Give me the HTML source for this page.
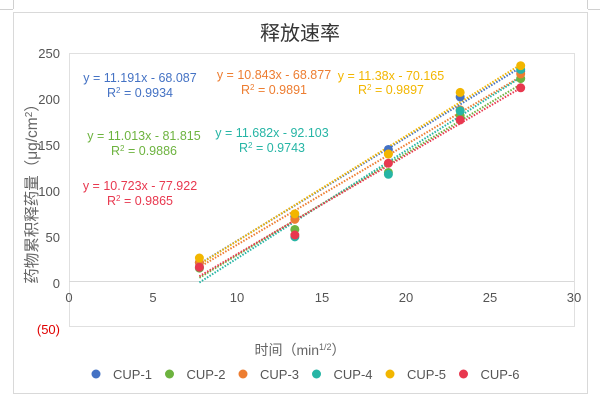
<!DOCTYPE html>
<html><head><meta charset="utf-8"><style>
body{margin:0;background:#fff;}
svg{display:block;font-family:"Liberation Sans","Noto Sans CJK SC",sans-serif;}
</style></head><body>
<svg id="s" width="600" height="403" viewBox="0 0 600 403">
<rect x="0" y="0" width="600" height="403" fill="#fff"/>
<line x1="13.5" y1="0" x2="13.5" y2="9" stroke="#d0d0d0"/>
<line x1="587.5" y1="0" x2="587.5" y2="9" stroke="#d0d0d0"/>
<line x1="0" y1="9.5" x2="13" y2="9.5" stroke="#d0d0d0"/>
<line x1="588" y1="9.5" x2="600" y2="9.5" stroke="#d0d0d0"/>
<rect x="13.5" y="12.5" width="574" height="381" fill="#fff" stroke="#d9d9d9"/>
<text x="300" y="40" font-size="20" text-anchor="middle" fill="#333">释放速率</text>
<rect x="69.5" y="53.5" width="505" height="273" fill="none" stroke="#e0e0e0"/>
<line x1="69" y1="281.5" x2="574" y2="281.5" stroke="#d9d9d9"/>
<g font-size="13" fill="#555" text-anchor="end">
<text x="60" y="58">250</text><text x="60" y="104">200</text><text x="60" y="150">150</text>
<text x="60" y="196">100</text><text x="60" y="242">50</text><text x="60" y="288">0</text>
<text x="60" y="334" fill="#e00000">(50)</text>
</g>
<g font-size="13" fill="#555" text-anchor="middle">
<text x="69" y="302">0</text><text x="153" y="302">5</text><text x="237" y="302">10</text>
<text x="322" y="302">15</text><text x="406" y="302">20</text><text x="490" y="302">25</text><text x="574" y="302">30</text>
</g>
<text transform="translate(37,190) rotate(-90)" font-size="15.5" fill="#666" text-anchor="middle">药物累积释药量（μg/cm<tspan font-size="10" dy="-5">2</tspan><tspan dy="5">）</tspan></text>
<text x="300" y="355" font-size="14" fill="#666" text-anchor="middle">时间（min<tspan font-size="9" dy="-5">1/2</tspan><tspan dy="5">）</tspan></text>
<g id="lines"></g><g id="pts"></g>
<g font-size="12.5" text-anchor="middle">
<text x="140" y="82" fill="#4472C4">y = 11.191x - 68.087</text>
<text x="140" y="97" fill="#4472C4">R<tspan font-size="8" dy="-4">2</tspan><tspan dy="4"> = 0.9934</tspan></text>
<text x="274" y="79" fill="#ED7D31">y = 10.843x - 68.877</text>
<text x="274" y="94" fill="#ED7D31">R<tspan font-size="8" dy="-4">2</tspan><tspan dy="4"> = 0.9891</tspan></text>
<text x="391" y="80" fill="#F2B600">y = 11.38x - 70.165</text>
<text x="391" y="94" fill="#F2B600">R<tspan font-size="8" dy="-4">2</tspan><tspan dy="4"> = 0.9897</tspan></text>
<text x="144" y="140" fill="#6DB33F">y = 11.013x - 81.815</text>
<text x="144" y="155" fill="#6DB33F">R<tspan font-size="8" dy="-4">2</tspan><tspan dy="4"> = 0.9886</tspan></text>
<text x="272" y="137" fill="#26B5A5">y = 11.682x - 92.103</text>
<text x="272" y="152" fill="#26B5A5">R<tspan font-size="8" dy="-4">2</tspan><tspan dy="4"> = 0.9743</tspan></text>
<text x="140" y="190" fill="#E8384F">y = 10.723x - 77.922</text>
<text x="140" y="205" fill="#E8384F">R<tspan font-size="8" dy="-4">2</tspan><tspan dy="4"> = 0.9865</tspan></text>
</g>
<g id="leg" font-size="13" fill="#555"></g>
</svg>
<script>
var X=function(x){return 69+x*505/30},Y=function(v){return 281-v*0.92};
var xs=[Math.sqrt(60),Math.sqrt(180),Math.sqrt(360),Math.sqrt(540),Math.sqrt(720)];
var S=[
["#4472C4",11.191,-68.087,[20,70,143,200,228],"CUP-1"],
["#6DB33F",11.013,-81.815,[14,56,118,180,220],"CUP-2"],
["#ED7D31",10.843,-68.877,[20,67,138,186,225],"CUP-3"],
["#26B5A5",11.682,-92.103,[15,48,116,185,230],"CUP-4"],
["#F2B600",11.38,-70.165,[25,73,138,205,234],"CUP-5"],
["#E8384F",10.723,-77.922,[15,50,128,175,210],"CUP-6"]];
var L="",P="",G="";
S.forEach(function(s,i){
 var a=xs[0],b=xs[4];
 L+='<line x1="'+X(a)+'" y1="'+Y(s[1]*a+s[2])+'" x2="'+X(b)+'" y2="'+Y(s[1]*b+s[2])+'" stroke="'+s[0]+'" stroke-width="2" stroke-dasharray="1.5,1.5"/>';
 s[3].forEach(function(v,j){P+='<circle cx="'+X(xs[j])+'" cy="'+Y(v)+'" r="4.5" fill="'+s[0]+'"/>';});
 var lx=96+i*73.5;
 G+='<circle cx="'+lx+'" cy="374" r="4.5" fill="'+s[0]+'"/><text x="'+(lx+17)+'" y="379">'+s[4]+'</text>';
});
document.getElementById("lines").innerHTML=L;
document.getElementById("pts").innerHTML=P;
document.getElementById("leg").innerHTML=G;
</script>
</body></html>
